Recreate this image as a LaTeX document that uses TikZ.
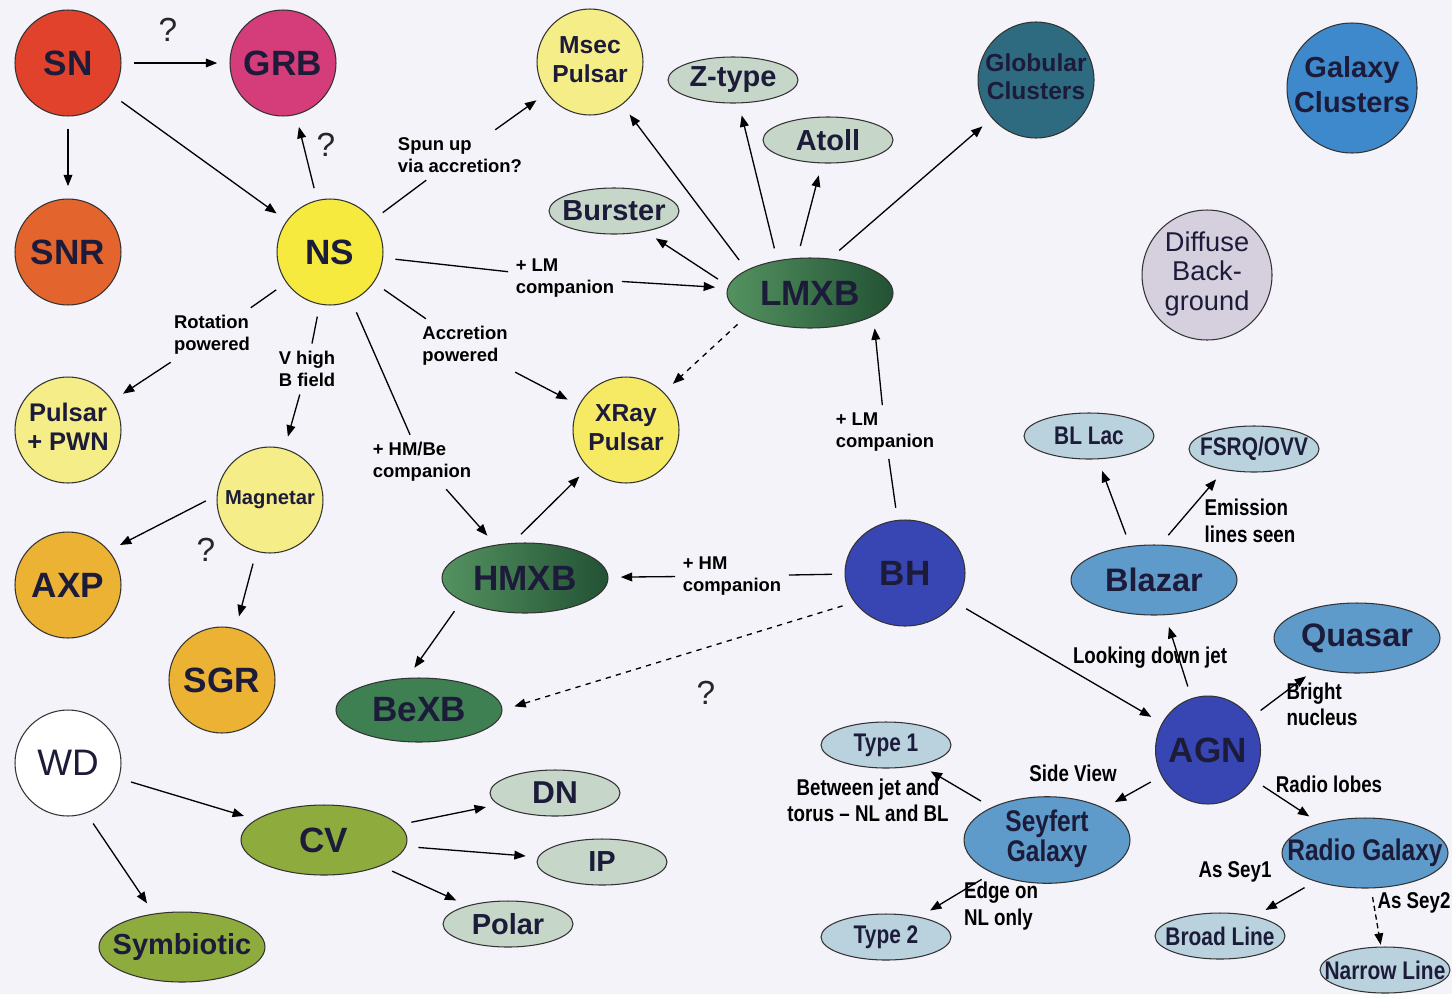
\documentclass[tikz,border=0pt]{standalone}
\usepackage{fontspec}
\setmainfont{Liberation Sans}
\newfontfamily\narrowfont{Liberation Sans}[FakeStretch=0.82]
\usetikzlibrary{shapes.geometric,arrows.meta}

\definecolor{paper}{RGB}{244,243,250}
\definecolor{ink}{RGB}{28,28,58}
\definecolor{snred}{RGB}{224,66,44}
\definecolor{grbpink}{RGB}{213,60,122}
\definecolor{snrorange}{RGB}{228,100,46}
\definecolor{nsyellow}{RGB}{247,234,62}
\definecolor{paleyellow}{RGB}{245,237,135}
\definecolor{xrayyellow}{RGB}{246,234,100}
\definecolor{amber}{RGB}{236,178,52}
\definecolor{sagegreen}{RGB}{198,214,200}
\definecolor{xbdark}{RGB}{34,82,52}
\definecolor{xblight}{RGB}{84,146,96}
\definecolor{bexbgreen}{RGB}{62,128,82}
\definecolor{globteal}{RGB}{46,106,128}
\definecolor{galblue}{RGB}{62,136,204}
\definecolor{haze}{RGB}{214,207,222}
\definecolor{bhblue}{RGB}{56,70,180}
\definecolor{agnsky}{RGB}{94,154,202}
\definecolor{paleblue}{RGB}{186,210,222}
\definecolor{olivegreen}{RGB}{142,172,62}

\newcommand{\fs}[2]{\fontsize{#1}{#2}\selectfont}
\newcommand{\tx}[1]{\makebox[0pt]{#1}}
\newcommand{\stack}[1]{\makebox[0pt]{\begin{tabular}{@{}c@{}}#1\end{tabular}}}

\tikzset{
  body/.style={draw=black!80, line width=0.6pt, inner sep=0pt, text=ink},
  disc/.style={body, circle, minimum size=#1},
  disc/.default=2.12cm,
  oval/.style={body, ellipse, minimum width=3.32cm, minimum height=1.4cm},
  pill/.style={body, ellipse, minimum width=2.6cm, minimum height=0.92cm},
  bigtext/.style={font=\bfseries\fs{20}{22}},
  midtext/.style={font=\bfseries\fs{16.5}{19}},
  smalltext/.style={font=\bfseries\fs{14}{17}},
  thintext/.style={font=\narrowfont\bfseries\fs{14.5}{17}},
  note/.style={font=\bfseries\fs{10.5}{12.5}, align=left, inner sep=4pt, text=black},
  agnnote/.style={font=\narrowfont\bfseries\fs{13}{15}, align=left, inner sep=2pt, text=black},
  qmark/.style={font=\fs{19}{20}, inner sep=0pt, text=black!85},
  link/.style={->, shorten <=7pt, shorten >=7pt},
  tonote/.style={shorten <=7pt},
  fromnote/.style={->, shorten >=7pt},
}

\begin{document}
\begin{tikzpicture}[x=0.02cm, y=-0.02cm, line width=0.75pt,
  >={Triangle[length=6.5pt,width=5pt]}]
\useasboundingbox (0,0) rectangle (1452,994);
\fill[paper] (0,0) rectangle (1452,994);

% stars and neutron stars
\node[disc, fill=snred, bigtext] (sn) at (68,63) {\tx{SN}};
\node[disc, fill=grbpink, bigtext] (grb) at (283,63) {\tx{GRB}};
\node[disc, fill=snrorange, bigtext] (snr) at (68,252) {\tx{SNR}};
\node[disc, fill=nsyellow, bigtext] (ns) at (330,252) {\tx{NS}};
\node[disc, fill=paleyellow, font=\bfseries\fs{14}{17}] (msec) at (590,62) {\stack{Msec\\Pulsar}};
\node[disc, fill=paleyellow, font=\bfseries\fs{14.5}{17}] (pwn) at (68,430) {\stack{Pulsar\\+ PWN}};
\node[disc, fill=paleyellow, font=\bfseries\fs{11.5}{13}] (magnetar) at (270,500) {\tx{Magnetar}};
\node[disc, fill=amber, bigtext] (axp) at (68,585) {\tx{AXP}};
\node[disc, fill=amber, bigtext] (sgr) at (222,680) {\tx{SGR}};
\node[disc, fill=xrayyellow, font=\bfseries\fs{14}{17}] (xray) at (626,430) {\stack{XRay\\Pulsar}};

% x-ray binaries
\node[oval, left color=xblight, right color=xbdark, bigtext] (lmxb) at (810,293) {\tx{LMXB}};
\node[oval, left color=xblight, right color=xbdark, bigtext] (hmxb) at (525,578) {\tx{HMXB}};
\node[oval, minimum height=1.28cm, fill=bexbgreen, bigtext] (bexb) at (419,710) {\tx{BeXB}};
\node[pill, fill=sagegreen, midtext] (ztype) at (733,80) {\tx{Z-type}};
\node[pill, fill=sagegreen, midtext] (atoll) at (828,140) {\tx{Atoll}};
\node[pill, fill=sagegreen, midtext] (burster) at (614,211) {\tx{Burster}};
\node[disc=2.32cm, fill=globteal, font=\bfseries\fs{14}{16}] (glob) at (1036,80) {\stack{Globular\\Clusters}};

% extragalactic
\node[disc=2.6cm, fill=galblue, font=\bfseries\fs{16.5}{20}] (galclus) at (1352,88) {\stack{Galaxy\\Clusters}};
\node[disc=2.6cm, fill=haze, font=\fs{15.5}{17}] (diffuse) at (1207,275) {\stack{Diffuse\\Back-\\ground}};
\node[body, ellipse, minimum width=2.4cm, minimum height=2.12cm, fill=bhblue, bigtext] (bh) at (905,573) {\tx{BH}};
\node[body, ellipse, minimum width=2.1cm, minimum height=2.16cm, fill=bhblue, bigtext] (agn) at (1208,750) {\tx{AGN}};
\node[oval, fill=agnsky, font=\bfseries\fs{18.5}{20}] (blazar) at (1154,580) {\tx{Blazar}};
\node[oval, fill=agnsky, font=\bfseries\fs{18.5}{20}] (quasar) at (1357,638) {\tx{Quasar}};
\node[oval, fill=agnsky, font=\narrowfont\bfseries\fs{17}{17}] (seyfert) at (1047,840) {\stack{Seyfert\\Galaxy}};
\node[oval, fill=agnsky, font=\narrowfont\bfseries\fs{17}{19}] (radio) at (1365,853) {\tx{Radio Galaxy}};
\node[pill, fill=paleblue, thintext] (bllac) at (1089,436) {\tx{BL Lac}};
\node[pill, fill=paleblue, thintext] (fsrq) at (1254,449) {\tx{FSRQ/OVV}};
\node[pill, fill=paleblue, thintext] (type1) at (886,745) {\tx{Type 1}};
\node[pill, fill=paleblue, thintext] (type2) at (886,937) {\tx{Type 2}};
\node[pill, fill=paleblue, thintext] (broad) at (1220,936) {\tx{Broad Line}};
\node[pill, fill=paleblue, thintext] (narrow) at (1385,970) {\tx{Narrow Line}};

% white dwarfs
\node[disc, fill=white, font=\fs{21}{22}] (wd) at (68,763) {\tx{WD}};
\node[oval, fill=olivegreen, bigtext] (cv) at (324,840) {\tx{CV}};
\node[oval, fill=olivegreen, midtext] (symb) at (182,947) {\tx{Symbiotic}};
\node[pill, fill=sagegreen, font=\bfseries\fs{18}{19}] (dn) at (555,793) {\tx{DN}};
\node[pill, fill=sagegreen, midtext] (ip) at (602,862) {\tx{IP}};
\node[pill, fill=sagegreen, midtext] (polar) at (508,924) {\tx{Polar}};

% notes on the links
\node[note] (lspun) at (460,155) {Spun up\\via accretion?};
\node[note] (llm) at (565,278) {+ LM\\companion};
\node[note] (lacc) at (465,346) {Accretion\\powered};
\node[note] (lrot) at (212,335) {Rotation\\powered};
\node[note] (lvhigh) at (307,369) {V high\\B field};
\node[note] (lhmbe) at (422,462) {+ HM/Be\\companion};
\node[note] (lbhlm) at (885,432) {+ LM\\companion};
\node[note] (lbhhm) at (732,576) {+ HM\\companion};
\node[agnnote] (lemis) at (1250,521) {Emission\\lines seen};
\node[agnnote] (ldown) at (1150,658) {Looking down jet};
\node[agnnote] (lbright) at (1322,704) {Bright\\nucleus};
\node[agnnote] (lside) at (1073,773) {Side View};
\node[agnnote] (lradio) at (1329,784) {Radio lobes};
\node[agnnote, align=center] (lbetw) at (868,800) {Between jet and\\torus – NL and BL};
\node[agnnote] (ledge) at (1001,906) {Edge on\\NL only};
\node[agnnote] (lsey1) at (1235,872) {As Sey1};
\node[agnnote] (lsey2) at (1414,903) {As Sey2};
\node[qmark] (q1) at (168,30) {?};
\node[qmark] (q2) at (326,145) {?};
\node[qmark] (q3) at (206,550) {?};
\node[qmark] (q4) at (706,693) {?};

% links
\draw[link] (sn) -- (grb);
\draw[link] (sn) -- (snr);
\draw[link] (sn) -- (ns);
\draw[link] (ns) -- (grb);
\draw[tonote] (ns) -- (lspun);
\draw[fromnote] (lspun) -- (msec);
\draw[tonote] (ns) -- (llm);
\draw[fromnote] (llm) -- (lmxb);
\draw[tonote] (ns) -- (lacc);
\draw[fromnote] (lacc) -- (xray);
\draw[tonote] (ns) -- (lrot);
\draw[fromnote] (lrot) -- (pwn);
\draw[tonote] (ns) -- (lvhigh);
\draw[fromnote] (lvhigh) -- (magnetar);
\draw[tonote] (ns) -- (lhmbe);
\draw[fromnote] (lhmbe) -- (hmxb);
\draw[link] (magnetar.175) -- (axp.40);
\draw[link] (magnetar) -- (sgr);

\draw[link] (lmxb.175) -- (burster);
\draw[link] (lmxb.160) -- (msec);
\draw[link] (lmxb.135) -- (ztype);
\draw[link] (lmxb.110) -- (atoll);
\draw[link] (lmxb.60) -- (glob);
\draw[link, dashed] (lmxb.200) -- (xray.45);
\draw[link] (hmxb.110) -- (xray.225);
\draw[link] (hmxb.200) -- (bexb.110);

\draw[tonote] (bh) -- (lbhlm);
\draw[fromnote] (lbhlm) -- (lmxb.-20);
\draw[tonote] (bh) -- (lbhhm);
\draw[fromnote] (lbhhm) -- (hmxb);
\draw[link, dashed] (bh.210) -- (bexb.east);
\draw[link] (bh) -- (agn);

\draw[link] (agn) -- (blazar);
\draw[link] (blazar.125) -- (bllac);
\draw[link] (blazar.80) -- (fsrq.215);
\draw[link] (agn) -- (quasar);
\draw[link] (agn) -- (seyfert);
\draw[link] (agn) -- (radio);
\draw[link] (seyfert) -- (type1);
\draw[link] (seyfert) -- (type2);
\draw[link] (radio) -- (broad);
\draw[->, densely dashed, shorten <=5pt, shorten >=1pt] (radio) -- (narrow);

\draw[link] (wd) -- (cv);
\draw[link] (wd.-70) -- (symb.130);
\draw[link] (cv) -- (dn);
\draw[link] (cv) -- (ip);
\draw[link] (cv) -- (polar);
\end{tikzpicture}
\end{document}
